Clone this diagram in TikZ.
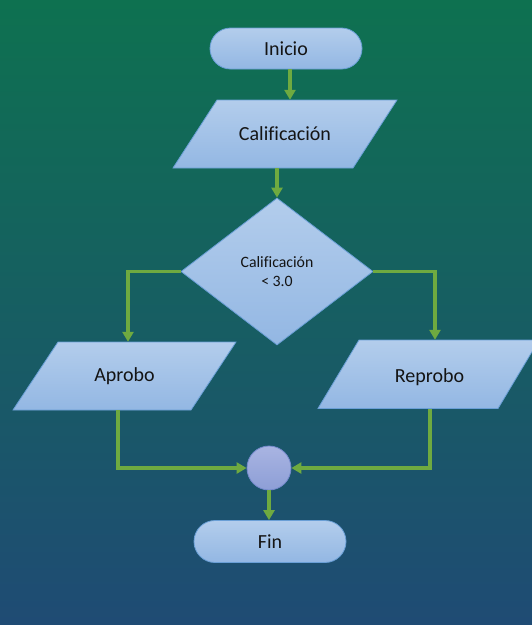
\documentclass[tikz,border=0pt]{standalone}
\usepackage{fontspec}
\setmainfont{Carlito}[Ligatures=CommonOff]
\usetikzlibrary{arrows.meta,shapes.misc,shapes.geometric}
\definecolor{bgtop}{HTML}{0E7150}
\definecolor{bgbot}{HTML}{1F4B74}
\definecolor{shtop}{HTML}{B3CDEC}
\definecolor{shbot}{HTML}{93B7E3}
\definecolor{shline}{HTML}{6A9FD6}
\definecolor{arr}{HTML}{6FAA40}
\definecolor{ctop}{HTML}{A9B4E2}
\definecolor{cbot}{HTML}{8D9ED6}
\definecolor{cline}{HTML}{7489CC}
\definecolor{txt}{HTML}{141414}
\begin{document}
\begin{tikzpicture}[x=1pt,y=-1pt,
  box/.style={draw=shline,line width=0.8pt,top color=shtop,bottom color=shbot},
  lbl/.style={font=\fontsize{20}{24}\selectfont,text=txt,inner sep=0pt},
  para/.style={lbl,minimum width=180pt,minimum height=68pt},
  term/.style={box,lbl,rounded rectangle,minimum width=152pt,minimum height=41pt},
  conn/.style={draw=arr,line width=3.2pt,-{Triangle[length=10pt,width=11pt]}},
]
\useasboundingbox (0,0) rectangle (532,625);
\shade[top color=bgtop,bottom color=bgbot] (0,0) rectangle (532,625);

% helper x-positions for connectors
\coordinate (x290) at (290,0);
\coordinate (x277) at (277,0);
\coordinate (x128) at (128,0);
\coordinate (x435) at (435,0);
\coordinate (x118) at (118,0);
\coordinate (x430) at (430,0);

% Inicio
\node[term] (ini) at (286,48.5) {Inicio};

% Calificacion (input)
\path[box] (217,100) -- (397,100) -- (353,168) -- (173,168) -- cycle;
\node[para] (cal) at (285,134) {Calificación};

% Decision
\node[box,diamond,minimum width=192pt,minimum height=147pt,inner sep=0pt,
      align=center,font=\fontsize{15.8}{19.5}\selectfont,text=txt] (dec) at (277,271.5)
      {Calificación\\[-1pt]< 3.0};

% Aprobo
\path[box] (58,342) -- (236,342) -- (191,410) -- (13,410) -- cycle;
\node[para,minimum width=178pt] (apr) at (124.5,376) {Aprobo};

% Reprobo
\path[box] (359,340) -- (539,340) -- (498,408.5) -- (318,408.5) -- cycle;
\node[para,minimum height=68.5pt] (rep) at (429.5,374.25)
      {\raisebox{-2.5pt}[\height][\depth]{Reprobo}};

% Merge circle
\node[circle,draw=cline,line width=0.8pt,top color=ctop,bottom color=cbot,
      minimum size=44pt,inner sep=0pt] (mrg) at (269,468) {};

% Fin
\node[term,minimum height=42pt] (fin) at (270,541.5) {Fin};

% Connectors
\draw[conn] (ini.south -| x290) -- (cal.north -| x290);
\draw[conn] (cal.south -| x277) -- (dec.north);
\draw[conn] (dec.west) -| (apr.north -| x128);
\draw[conn] (dec.east) -| (rep.north -| x435);
\draw[conn] (apr.south -| x118) |- (mrg.west);
\draw[conn] (rep.south -| x430) |- (mrg.east);
\draw[conn] (mrg.south) -- (fin.north -| mrg.south);
\end{tikzpicture}
\end{document}
